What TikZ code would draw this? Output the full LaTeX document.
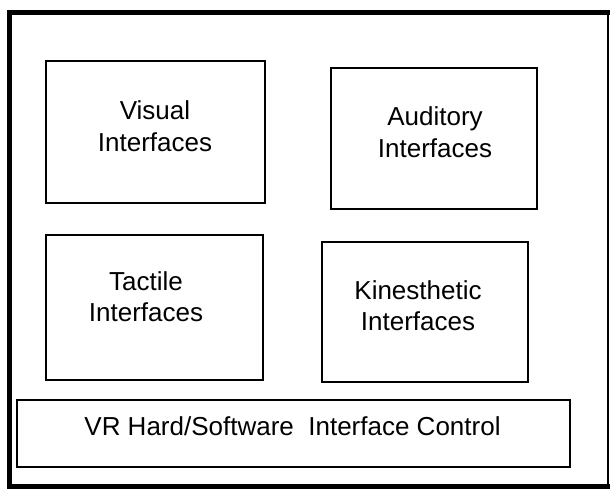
\documentclass[tikz,border=0pt]{standalone}
\usepackage{fontspec}
\setmainfont{Liberation Sans}
\begin{document}
\begin{tikzpicture}[x=1pt,y=-1pt,
  box/.style={draw=black,line width=2.6pt,minimum width=0pt},
  lbl/.style={align=center,inner sep=0pt,font=\fontsize{26}{31.5}\selectfont},
  thickedge/.style={line width=5pt,line cap=rect},
  thinedge/.style={line width=1.6pt}]
\useasboundingbox (0,0) rectangle (610,491);
% outer frame
\coordinate (tl) at (9,12);
\coordinate (tr) at (608,12);
\coordinate (bl) at (9,486);
\coordinate (br) at (608,486);
\draw[thickedge] (tr) -- (tl) -- (bl) -- (br);
\draw[thinedge] (tr) -- (br);
% boxes
\draw[box] (46,61) rectangle (265,203) coordinate (vis);
\draw[box] (331,68) rectangle (537,209) coordinate (aud);
\draw[box] (46,235) rectangle (263,380) coordinate (tac);
\draw[box] (322,242) rectangle (528,382) coordinate (kin);
\draw[box] (17,400) rectangle (570,467) coordinate (vr);
% labels
\node[lbl] (tvis) at (155,126) {Visual\\Interfaces};
\node[lbl] (taud) at (435,132) {Auditory\\Interfaces};
\node[lbl] (ttac) at (146,296.5) {Tactile\\Interfaces};
\node[lbl] (tkin) at (418,305.5) {Kinesthetic\\Interfaces};
\node[lbl] (tvr) at (292.5,426.5) {VR Hard/Software\ \ Interface Control};
\end{tikzpicture}
\end{document}
